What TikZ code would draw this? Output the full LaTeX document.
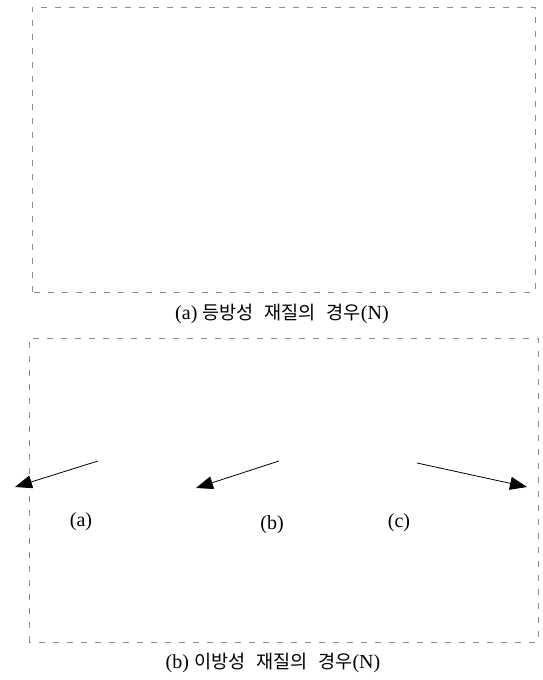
\documentclass[tikz,border=0pt]{standalone}
\usepackage{fontspec}
\setmainfont{Liberation Serif}
\newfontfamily\kr[WordSpace=2.6,Scale=0.93]{Noto Sans CJK KR}
\usetikzlibrary{arrows.meta}
\tikzset{
	frame/.style={draw=black!45, line width=0.6pt, dash pattern=on 6pt off 8pt},
	force/.style={line width=0.8pt, -{Triangle[length=17pt,width=13pt]}},
	tag/.style={font=\fontsize{20}{23}\selectfont},
}
\begin{document}
\begin{tikzpicture}[x=1pt,y=1pt]
				\useasboundingbox (0,0) rectangle (542,680);
				
				\draw[frame] (32,388) rectangle (535,673);
				\node[tag] (capa) at (282,366) {(a) {\kr 등방성 재질의 경우}(N)};
				
				\draw[frame] (29,38) rectangle (538,342);
				\node[tag] (capb) at (273,17) {(b) {\kr 이방성 재질의 경우}(N)};
				
				\coordinate (sa) at (98,219);
				\coordinate (ta) at (15,193);
				\coordinate (sb) at (279,219);
				\coordinate (tb) at (196,192);
				\coordinate (sc) at (417,217);
				\coordinate (tc) at (527,193);
				\draw[force] (sa) -- (ta);
				\draw[force] (sb) -- (tb);
				\draw[force] (sc) -- (tc);
				
				\node[tag] (la) at (81,158) {(a)};
				\node[tag] (lb) at (272,155) {(b)};
				\node[tag] (lc) at (399,157) {(c)};
			\end{tikzpicture}
\end{document}
